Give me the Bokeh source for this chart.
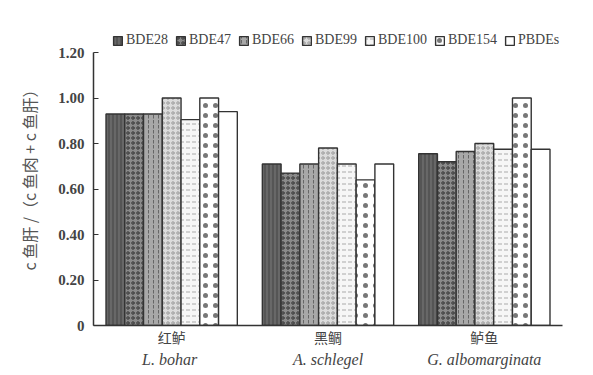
from bokeh.plotting import figure
from bokeh.models import ColumnDataSource, FactorRange, Range1d, Legend, LegendItem, FixedTicker, CustomJSTickFormatter
from bokeh.transform import dodge
from bokeh.embed import file_html
from bokeh.resources import INLINE

groups = ["红鲈", "黑鲷", "鲈鱼"]
latin = ["L.  bohar", "A. schlegel", "G. albomarginata"]
series = ["BDE28", "BDE47", "BDE66", "BDE99", "BDE100", "BDE154", "PBDEs"]
BDE28 = [0.93, 0.71, 0.755]
BDE47 = [0.93, 0.67, 0.72]
BDE66 = [0.93, 0.71, 0.765]
BDE99 = [1.00, 0.78, 0.80]
BDE100 = [0.905, 0.71, 0.775]
BDE154 = [1.00, 0.64, 1.00]
PBDEs = [0.94, 0.71, 0.775]
y_ticks = [0, 0.2, 0.4, 0.6, 0.8, 1.0, 1.2]

SERIF = "Liberation Serif, 'Times New Roman', serif"

factors = list(zip(latin, groups))
data = dict(group=factors, BDE28=BDE28, BDE47=BDE47, BDE66=BDE66, BDE99=BDE99,
            BDE100=BDE100, BDE154=BDE154, PBDEs=PBDEs)
src = ColumnDataSource(data)

styles = [
    dict(fill_color="#555555", hatch_pattern="|", hatch_color="#7a7a7a", hatch_scale=4),
    dict(fill_color="#8a8a8a", hatch_pattern="o", hatch_color="#333333", hatch_scale=5),
    dict(fill_color="#a8a8a8", hatch_pattern=":", hatch_color="#666666", hatch_scale=5),
    dict(fill_color="#dcdcdc", hatch_pattern="o", hatch_color="#999999", hatch_scale=5),
    dict(fill_color="#f6f6f6", hatch_pattern='"', hatch_color="#aaaaaa", hatch_scale=6),
    dict(fill_color="#ffffff", hatch_pattern=".", hatch_color="#777777", hatch_scale=10),
    dict(fill_color="#ffffff", hatch_pattern=" ", hatch_color="#ffffff", hatch_scale=6),
]

# frame: top 26, 1.20 at 52, 0 at 325 (extra headroom holds the legend)
Y_END = 1.2 * 299 / 273

p = figure(width=585, height=370,
           x_range=FactorRange(*factors, range_padding=0, group_padding=0),
           y_range=Range1d(0, Y_END), output_backend="svg", toolbar_location=None,
           min_border_left=93, min_border_right=23, min_border_top=26, min_border_bottom=45)
p.outline_line_color = None
p.grid.visible = False

bw = 0.12
items = []
for i, s in enumerate(series):
    off = (i - 3) * bw
    r = p.vbar(x=dodge("group", off, range=p.x_range), top=s, width=bw, source=src,
               line_color="#333333", line_width=1.4, **styles[i])
    items.append(LegendItem(label=s, renderers=[r]))

legend = Legend(items=items, orientation="horizontal", location=(19, 277),
                padding=0, margin=0, spacing=7, label_standoff=3,
                glyph_width=11, glyph_height=11, label_height=12,
                label_text_font=SERIF, label_text_font_size="14px",
                label_text_color="#444444", border_line_color=None, background_fill_alpha=0)
p.add_layout(legend, "center")

ya = p.yaxis[0]
ya.bounds = (0, 1.2)
ya.ticker = FixedTicker(ticks=y_ticks)
ya.formatter = CustomJSTickFormatter(code="return tick == 0 ? '0' : tick.toFixed(2);")
ya.major_tick_in = 5
ya.major_tick_out = 0
ya.minor_tick_line_color = None
ya.axis_line_width = 1.5
ya.axis_line_color = "#333333"
ya.major_tick_line_color = "#333333"
ya.major_label_text_font = SERIF
ya.major_label_text_font_size = "15px"
ya.major_label_text_font_style = "bold"
ya.major_label_text_color = "#444444"
ya.major_label_standoff = 9
ya.axis_label = "c 鱼肝 /（c 鱼肉 + c 鱼肝）"
ya.axis_label_text_font = "Noto Sans CJK SC"
ya.axis_label_text_font_size = "16px"
ya.axis_label_text_font_style = "normal"
ya.axis_label_text_color = "#555555"
ya.axis_label_standoff = 14

xa = p.xaxis[0]
xa.axis_line_width = 1.5
xa.axis_line_color = "#333333"
xa.major_tick_line_color = None
xa.major_tick_out = 0
xa.major_tick_in = 0
xa.separator_line_color = None
xa.major_label_text_font = "Noto Sans CJK SC"
xa.major_label_text_font_size = "14px"
xa.major_label_text_color = "#444444"
xa.major_label_standoff = 1
xa.group_text_font = SERIF
xa.group_text_font_style = "italic"
xa.group_text_font_size = "16px"
xa.group_text_color = "#444444"

open("out.html", "w").write(file_html(p, INLINE))
